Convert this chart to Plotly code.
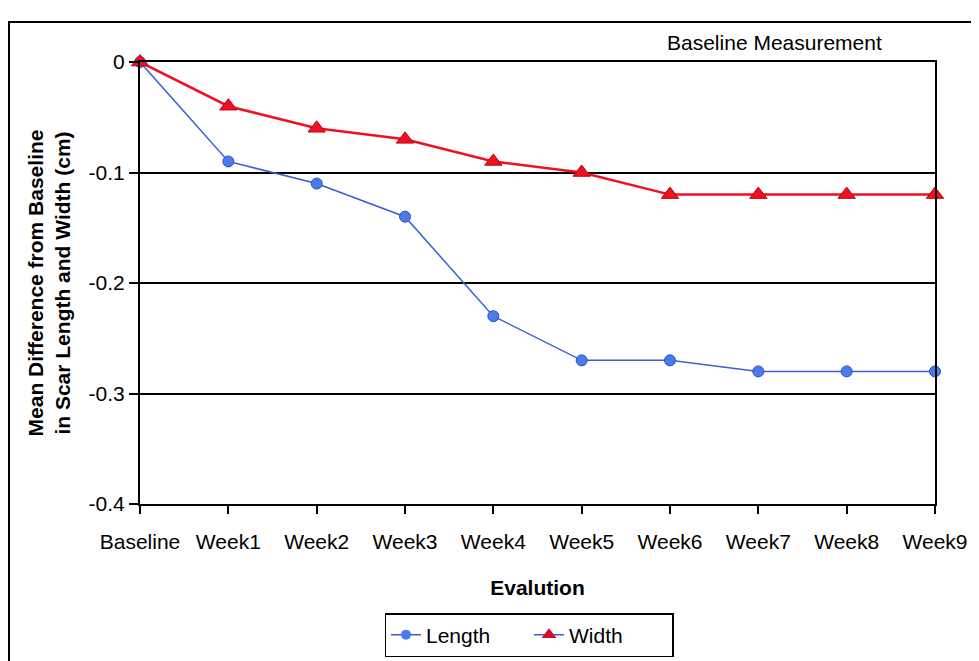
import plotly.graph_objects as go

categories = ["Baseline", "Week1", "Week2", "Week3", "Week4", "Week5", "Week6", "Week7", "Week8", "Week9"]
length_vals = [0, -0.09, -0.11, -0.14, -0.23, -0.27, -0.27, -0.28, -0.28, -0.28]
width_vals = [0, -0.04, -0.06, -0.07, -0.09, -0.10, -0.12, -0.12, -0.12, -0.12]
y_ticks = [0, -0.1, -0.2, -0.3, -0.4]
y_tick_labels = ["0", "-0.1", "-0.2", "-0.3", "-0.4"]

FONT = "Liberation Sans, Arial, sans-serif"
FS = 21

# page body has an 8px margin; target coordinates are shifted by OFF
OFF = 8
W, H = 971, 653
L, R, T, B = 140 - OFF, 44, 62 - OFF, 157
pw, ph = W - L - R, H - T - B

def px(x):
    return (x - OFF - L) / pw

def py(y):
    return (H - B - (y - OFF)) / ph

BLUE_LINE = "#3a5fd0"
BLUE_MK = "#4a7be8"
RED = "#ee1122"

fig = go.Figure()
fig.add_trace(go.Scatter(
    x=categories, y=length_vals, name="Length", mode="lines+markers",
    line=dict(color=BLUE_LINE, width=1.5),
    marker=dict(symbol="circle", size=11, color=BLUE_MK, line=dict(color="#2a4fc0", width=1)),
    cliponaxis=False, showlegend=False,
))
fig.add_trace(go.Scatter(
    x=categories, y=width_vals, name="Width", mode="lines+markers",
    line=dict(color=RED, width=2.5),
    marker=dict(symbol="triangle-up", size=15, color=RED, line=dict(color="#c00010", width=1)),
    cliponaxis=False, showlegend=False,
))
# legend entries (as in the reference, both keys use the blue line)
fig.add_trace(go.Scatter(
    x=[None], y=[None], name="Length", mode="lines+markers",
    line=dict(color=BLUE_LINE, width=1.5),
    marker=dict(symbol="circle", size=10, color=BLUE_MK),
))
fig.add_trace(go.Scatter(
    x=[None], y=[None], name="Width", mode="lines+markers",
    line=dict(color=BLUE_LINE, width=1.5),
    marker=dict(symbol="triangle-up", size=13, color="#d0102a"),
))

fig.update_layout(
    width=W, height=H,
    margin=dict(l=L, r=R, t=T, b=B, autoexpand=False),
    paper_bgcolor="white", plot_bgcolor="white",
    font=dict(family=FONT, color="black", size=FS),
    showlegend=True,
    legend=dict(
        orientation="h", x=px(529), xanchor="center", y=py(613), yanchor="top",
        bordercolor="black", borderwidth=1.5, bgcolor="white",
        font=dict(size=FS, family=FONT), entrywidth=98, entrywidthmode="pixels",
    ),
    xaxis=dict(
        type="category", range=[0, 9],
        showline=True, linecolor="black", linewidth=2, mirror=True,
        ticks="outside", ticklen=8, tickcolor="black", tickwidth=1.5,
        ticklabelstandoff=10,
        showgrid=False, zeroline=False,
        tickfont=dict(size=FS, family=FONT),
        title=dict(text="<b>Evalution</b>", font=dict(size=FS, family=FONT), standoff=28),
        automargin=False,
    ),
    yaxis=dict(
        range=[-0.4, 0],
        tickvals=y_ticks, ticktext=y_tick_labels,
        showline=True, linecolor="black", linewidth=2, mirror=True,
        ticks="outside", ticklen=9, tickcolor="black", tickwidth=1.5,
        showgrid=True, gridcolor="black", gridwidth=2,
        zeroline=False,
        tickfont=dict(size=FS, family=FONT),
        title=dict(text="<b>Mean Difference from Baseline<br>in Scar Length and Width (cm)</b>",
                   font=dict(size=21, family=FONT), standoff=12),
        automargin=False,
    ),
    annotations=[dict(
        text="Baseline Measurement", x=px(774), y=py(43), xref="paper", yref="paper",
        xanchor="center", yanchor="middle", showarrow=False,
        font=dict(size=FS, family=FONT),
    )],
    shapes=[dict(
        type="rect", xref="paper", yref="paper",
        x0=px(9), x1=px(976), y0=py(675), y1=py(22),
        line=dict(color="black", width=2), fillcolor="rgba(0,0,0,0)", layer="below",
    )],
)

fig.write_html("out.html")
